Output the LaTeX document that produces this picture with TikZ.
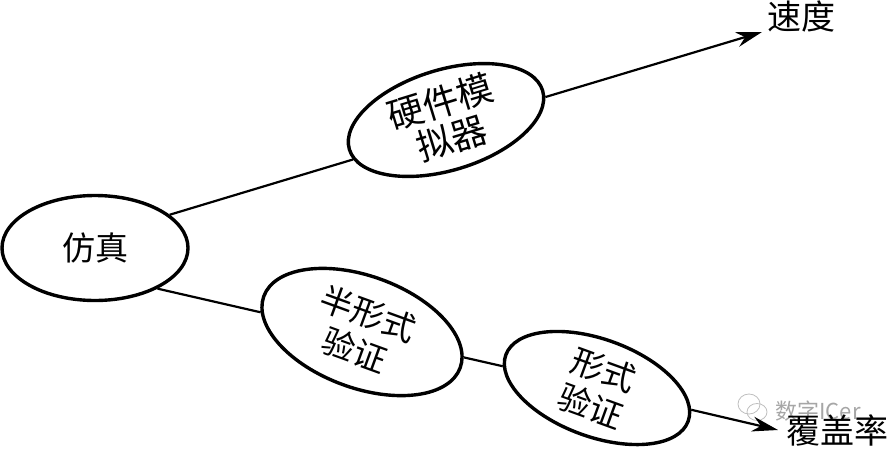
\documentclass[tikz,border=0pt]{standalone}
\usepackage{fontspec}
\setmainfont{Noto Sans CJK SC}
\usetikzlibrary{shapes.geometric, arrows.meta}
\begin{document}
\begin{tikzpicture} [x=1pt, y=-1pt]
    \tikzset{oval/.style={%
      draw,%
      ellipse,%
      line width=3.4pt,%
      fill=white,%
      inner sep=0pt,%
      align=center,%
      font=\fontsize{33}{39}\selectfont}%
    };
\tikzset{axislabel/.style={font=\fontsize{34}{38}\selectfont, inner sep=0pt}};
\tikzset{wire/.style={line width=2.2pt}};
\tikzset{arrowwire/.style={wire, -{Stealth[length=26pt, width=15pt]}}};
\tikzset{markoval/.style={draw=black!25, ellipse, line width=0.8pt, inner sep=0pt}};

\useasboundingbox (0,0) rectangle (888,450);

%ovals
\node[oval, minimum width=186pt, minimum height=105pt] (simulation) at (95, 248) {仿真};
\node[oval, minimum width=202pt, minimum height=97pt, rotate=17, font=\fontsize{36}{38}\selectfont] (emulator) at (446, 120) {硬件模\\拟器};
\node[oval, minimum width=209pt, minimum height=112pt, rotate=-20] (semiformal) at (362, 332) {半形式\\验证};
\node[oval, minimum width=194pt, minimum height=89pt, rotate=-20] (formal) at (597, 388) {形式\\验证};

%watermark
\node[markoval, minimum width=22pt, minimum height=20pt] (markleft) at (749, 404) {};
\node[markoval, minimum width=20pt, minimum height=17pt] (markright) at (757, 412) {};
\node[font=\fontsize{22}{24}\selectfont, text=black!35, inner sep=0pt] (mark) at (818, 411) {数字ICer};

%labels
\node[axislabel] (speed) at (801, 16) {速度};
\node[axislabel] (coverage) at (837, 430) {覆盖率};
\coordinate (speedend) at (762, 32);
\coordinate (coverageend) at (778, 430);

%connectors
\draw[wire] (simulation.24) -- (emulator.186);
\draw[arrowwire] (emulator.356) -- (speedend);
\draw[wire] (simulation.327) -- (semiformal.189);
\draw[wire] (semiformal.6) -- (formal.187);
\draw[arrowwire] (formal.7) -- (coverageend);

\end{tikzpicture}
\end{document}
